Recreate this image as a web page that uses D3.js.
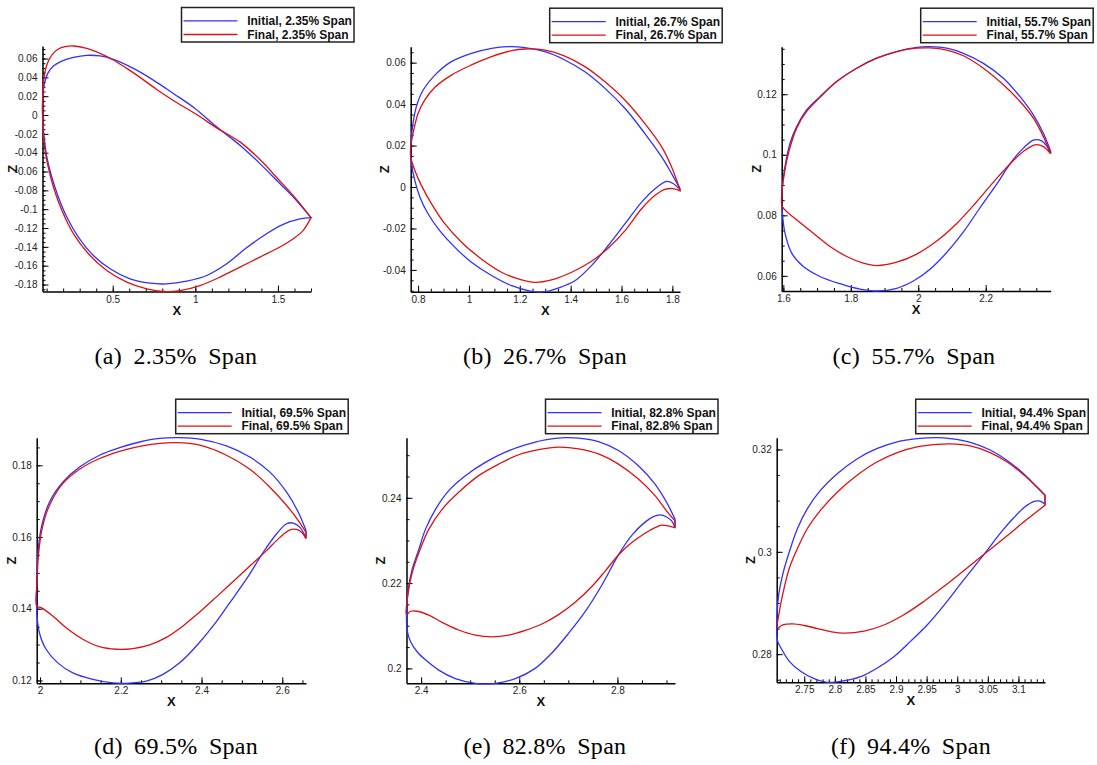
<!DOCTYPE html>
<meta charset="utf-8">
<style>

body {
  margin: 0;
  background: #fff;
}

svg {
  font-family: "Liberation Sans", Arial, sans-serif;
}

.axis path.domain {
  stroke: #000;
  stroke-width: 1.5;
}

.axis line {
  stroke: #000;
  stroke-width: 1;
}

.axis text {
  font-size: 10px;
  fill: #222;
}

.title {
  font-size: 13px;
  font-weight: bold;
  fill: #111;
}

.legend rect {
  fill: #fff;
  stroke: #222;
  stroke-width: 1.5;
}

.legend text {
  font-size: 12px;
  font-weight: bold;
  fill: #111;
}

.caption {
  font-family: "Liberation Serif", serif;
  font-size: 24px;
  letter-spacing: 0.3px;
  word-spacing: 5px;
  fill: #000;
}

.profile {
  fill: none;
  stroke-width: 1.3;
}

</style>
<body>
<script src="https://cdn.jsdelivr.net/npm/d3@7"></script>
<script>

// blade section profiles [x, z]: trailing edge -> upper side -> leading edge -> lower side
var spans = ["2.35", "26.7", "55.7", "69.5", "82.8", "94.4"];
var letters = ["a", "b", "c", "d", "e", "f"];

var initialA = [[1.700,-0.1090],[1.593,-0.0870],[1.502,-0.0711],[1.391,-0.0516],[1.270,-0.0321],[1.129,-0.0125],[0.998,0.0070],[0.867,0.0229],[0.746,0.0371],[0.625,0.0495],[0.504,0.0591],[0.423,0.0627],[0.343,0.0634],[0.262,0.0612],[0.192,0.0573],[0.141,0.0520],[0.107,0.0442],[0.087,0.0336],[0.077,0.0194],[0.075,0.0052],[0.079,-0.0125],[0.087,-0.0267],[0.101,-0.0445],[0.131,-0.0658],[0.171,-0.0870],[0.222,-0.1083],[0.292,-0.1296],[0.383,-0.1491],[0.484,-0.1633],[0.605,-0.1740],[0.726,-0.1786],[0.827,-0.1793],[0.948,-0.1764],[1.069,-0.1704],[1.190,-0.1580],[1.310,-0.1410],[1.431,-0.1260],[1.532,-0.1161],[1.633,-0.1104],[1.700,-0.1090]];
var finalA = [[1.700,-0.1090],[1.603,-0.0877],[1.502,-0.0682],[1.391,-0.0473],[1.270,-0.0285],[1.129,-0.0136],[1.008,0.0005],[0.867,0.0155],[0.766,0.0272],[0.665,0.0400],[0.585,0.0495],[0.504,0.0584],[0.423,0.0655],[0.343,0.0708],[0.262,0.0733],[0.212,0.0726],[0.171,0.0701],[0.131,0.0637],[0.101,0.0531],[0.085,0.0407],[0.077,0.0229],[0.075,0.0052],[0.077,-0.0125],[0.085,-0.0303],[0.105,-0.0516],[0.141,-0.0764],[0.192,-0.1012],[0.262,-0.1260],[0.353,-0.1473],[0.464,-0.1651],[0.585,-0.1775],[0.706,-0.1846],[0.806,-0.1874],[0.907,-0.1864],[1.028,-0.1811],[1.149,-0.1722],[1.270,-0.1615],[1.391,-0.1509],[1.512,-0.1402],[1.593,-0.1314],[1.653,-0.1225],[1.700,-0.1090]];

var initialB = [[1.830,-0.0008],[1.797,0.0065],[1.758,0.0145],[1.692,0.0258],[1.614,0.0379],[1.535,0.0476],[1.456,0.0556],[1.377,0.0613],[1.299,0.0653],[1.220,0.0673],[1.154,0.0677],[1.089,0.0669],[1.010,0.0645],[0.931,0.0605],[0.866,0.0540],[0.820,0.0468],[0.793,0.0387],[0.778,0.0290],[0.771,0.0194],[0.774,0.0113],[0.787,0.0032],[0.807,-0.0048],[0.839,-0.0129],[0.885,-0.0210],[0.944,-0.0290],[1.010,-0.0363],[1.089,-0.0427],[1.168,-0.0476],[1.246,-0.0503],[1.299,-0.0505],[1.351,-0.0487],[1.417,-0.0452],[1.482,-0.0379],[1.548,-0.0282],[1.614,-0.0177],[1.679,-0.0073],[1.732,-0.0008],[1.778,0.0027],[1.804,0.0016],[1.830,-0.0013]];
var finalB = [[1.830,-0.0013],[1.797,0.0097],[1.758,0.0194],[1.692,0.0306],[1.614,0.0419],[1.535,0.0508],[1.456,0.0581],[1.377,0.0632],[1.299,0.0661],[1.220,0.0666],[1.168,0.0658],[1.089,0.0629],[1.010,0.0589],[0.931,0.0540],[0.866,0.0481],[0.826,0.0419],[0.800,0.0355],[0.780,0.0258],[0.771,0.0194],[0.771,0.0145],[0.787,0.0081],[0.813,0.0008],[0.853,-0.0081],[0.905,-0.0177],[0.971,-0.0266],[1.049,-0.0347],[1.128,-0.0411],[1.207,-0.0448],[1.259,-0.0460],[1.325,-0.0448],[1.404,-0.0411],[1.482,-0.0358],[1.548,-0.0294],[1.614,-0.0210],[1.679,-0.0105],[1.732,-0.0040],[1.771,-0.0011],[1.804,-0.0008],[1.830,-0.0019]];

var initialC = [[2.3927,0.1011],[2.3710,0.1071],[2.3413,0.1132],[2.3018,0.1192],[2.2524,0.1253],[2.1931,0.1302],[2.1338,0.1335],[2.0843,0.1352],[2.0349,0.1357],[1.9954,0.1355],[1.9361,0.1341],[1.8768,0.1319],[1.8175,0.1286],[1.7581,0.1242],[1.7087,0.1192],[1.6692,0.1148],[1.6395,0.1093],[1.6198,0.1038],[1.6049,0.0961],[1.5970,0.0895],[1.5951,0.0851],[1.5980,0.0796],[1.6049,0.0741],[1.6247,0.0675],[1.6593,0.0631],[1.7087,0.0598],[1.7680,0.0574],[1.8273,0.0556],[1.8768,0.0550],[1.9361,0.0559],[1.9855,0.0583],[2.0349,0.0622],[2.0843,0.0677],[2.1338,0.0745],[2.1832,0.0825],[2.2326,0.0903],[2.2543,0.0940],[2.2820,0.0985],[2.3117,0.1022],[2.3433,0.1049],[2.3660,0.1046],[2.3809,0.1029],[2.3927,0.1003]];
var finalC = [[2.3927,0.1003],[2.3710,0.1060],[2.3413,0.1121],[2.3018,0.1176],[2.2524,0.1231],[2.1931,0.1286],[2.1338,0.1327],[2.0843,0.1346],[2.0349,0.1353],[1.9954,0.1352],[1.9361,0.1341],[1.8768,0.1319],[1.8175,0.1286],[1.7581,0.1242],[1.7087,0.1190],[1.6692,0.1143],[1.6395,0.1088],[1.6178,0.1016],[1.6030,0.0939],[1.5951,0.0862],[1.5970,0.0829],[1.6395,0.0785],[1.6890,0.0741],[1.7384,0.0697],[1.7878,0.0664],[1.8372,0.0642],[1.8768,0.0634],[1.9361,0.0645],[1.9954,0.0672],[2.0547,0.0715],[2.1140,0.0773],[2.1733,0.0845],[2.2326,0.0922],[2.2820,0.0981],[2.3117,0.1011],[2.3463,0.1033],[2.3710,0.1027],[2.3927,0.1003]];

var initialD = [[2.6588,0.1618],[2.6397,0.1669],[2.6108,0.1725],[2.5694,0.1781],[2.5197,0.1823],[2.4618,0.1854],[2.3956,0.1873],[2.3459,0.1877],[2.2963,0.1875],[2.2466,0.1865],[2.1970,0.1849],[2.1473,0.1828],[2.0977,0.1795],[2.0563,0.1753],[2.0232,0.1697],[2.0025,0.1623],[1.9942,0.1548],[1.9917,0.1473],[1.9917,0.1417],[1.9926,0.1380],[1.9983,0.1333],[2.0149,0.1287],[2.0439,0.1249],[2.0811,0.1221],[2.1308,0.1203],[2.1804,0.1193],[2.2135,0.1192],[2.2632,0.1198],[2.3046,0.1217],[2.3459,0.1249],[2.3873,0.1296],[2.4287,0.1352],[2.4701,0.1417],[2.5115,0.1483],[2.5528,0.1557],[2.5860,0.1609],[2.6108,0.1637],[2.6273,0.1639],[2.6439,0.1627],[2.6588,0.1597]];
var finalD = [[2.6588,0.1613],[2.6397,0.1646],[2.6108,0.1688],[2.5694,0.1739],[2.5197,0.1789],[2.4618,0.1828],[2.3956,0.1856],[2.3377,0.1863],[2.2963,0.1861],[2.2466,0.1853],[2.1970,0.1839],[2.1473,0.1819],[2.0977,0.1789],[2.0563,0.1749],[2.0232,0.1688],[2.0050,0.1623],[1.9959,0.1548],[1.9926,0.1473],[1.9917,0.1408],[2.0025,0.1403],[2.0314,0.1380],[2.0646,0.1347],[2.1059,0.1315],[2.1473,0.1294],[2.1887,0.1287],[2.2301,0.1289],[2.2715,0.1299],[2.3128,0.1320],[2.3542,0.1352],[2.3956,0.1391],[2.4370,0.1433],[2.4784,0.1476],[2.5197,0.1519],[2.5611,0.1562],[2.5942,0.1599],[2.6191,0.1620],[2.6356,0.1621],[2.6480,0.1613],[2.6588,0.1595]];

var initialE = [[2.9173,0.2350],[2.9003,0.2389],[2.8766,0.2432],[2.8427,0.2475],[2.8020,0.2511],[2.7614,0.2532],[2.7207,0.2540],[2.6936,0.2541],[2.6529,0.2536],[2.6122,0.2524],[2.5715,0.2507],[2.5308,0.2483],[2.4902,0.2452],[2.4563,0.2417],[2.4292,0.2373],[2.4088,0.2326],[2.3953,0.2279],[2.3817,0.2232],[2.3736,0.2185],[2.3702,0.2130],[2.3715,0.2090],[2.3783,0.2063],[2.3919,0.2039],[2.4088,0.2020],[2.4359,0.1996],[2.4698,0.1976],[2.5105,0.1965],[2.5512,0.1965],[2.5919,0.1976],[2.6325,0.2000],[2.6664,0.2036],[2.7003,0.2082],[2.7342,0.2133],[2.7681,0.2195],[2.8020,0.2266],[2.8292,0.2312],[2.8563,0.2343],[2.8732,0.2356],[2.8868,0.2360],[2.9003,0.2355],[2.9105,0.2346],[2.9173,0.2330]];
var finalE = [[2.9173,0.2346],[2.9003,0.2369],[2.8766,0.2405],[2.8427,0.2444],[2.8020,0.2479],[2.7614,0.2503],[2.7207,0.2515],[2.6800,0.2519],[2.6393,0.2513],[2.5986,0.2501],[2.5580,0.2479],[2.5173,0.2452],[2.4766,0.2413],[2.4427,0.2373],[2.4156,0.2326],[2.3953,0.2271],[2.3817,0.2224],[2.3736,0.2177],[2.3702,0.2126],[2.3783,0.2134],[2.3919,0.2134],[2.4156,0.2125],[2.4427,0.2108],[2.4766,0.2090],[2.5105,0.2078],[2.5444,0.2074],[2.5783,0.2078],[2.6122,0.2089],[2.6461,0.2104],[2.6800,0.2126],[2.7139,0.2155],[2.7478,0.2192],[2.7749,0.2228],[2.8020,0.2266],[2.8292,0.2295],[2.8563,0.2317],[2.8766,0.2330],[2.8902,0.2336],[2.9037,0.2334],[2.9173,0.2330]];

var initialF = [[3.1434,0.3111],[3.1298,0.3127],[3.1081,0.3153],[3.0810,0.3179],[3.0539,0.3199],[3.0213,0.3214],[2.9888,0.3221],[2.9671,0.3223],[2.9345,0.3221],[2.9019,0.3215],[2.8694,0.3202],[2.8368,0.3182],[2.8043,0.3153],[2.7771,0.3121],[2.7554,0.3085],[2.7391,0.3046],[2.7256,0.3000],[2.7147,0.2955],[2.7082,0.2916],[2.7055,0.2877],[2.7050,0.2851],[2.7066,0.2825],[2.7120,0.2812],[2.7256,0.2786],[2.7446,0.2766],[2.7663,0.2752],[2.7880,0.2745],[2.8151,0.2748],[2.8422,0.2756],[2.8694,0.2773],[2.8965,0.2795],[2.9236,0.2825],[2.9508,0.2857],[2.9779,0.2895],[3.0105,0.2945],[3.0457,0.2998],[3.0701,0.3036],[3.0919,0.3066],[3.1108,0.3088],[3.1271,0.3099],[3.1353,0.3099],[3.1434,0.3093]];
var finalF = [[3.1434,0.3110],[3.1298,0.3127],[3.1081,0.3151],[3.0810,0.3176],[3.0539,0.3194],[3.0213,0.3207],[2.9888,0.3211],[2.9671,0.3210],[2.9345,0.3205],[2.9019,0.3194],[2.8694,0.3176],[2.8368,0.3150],[2.8043,0.3117],[2.7771,0.3082],[2.7554,0.3046],[2.7391,0.3007],[2.7256,0.2968],[2.7158,0.2922],[2.7093,0.2883],[2.7066,0.2851],[2.7147,0.2857],[2.7310,0.2859],[2.7500,0.2856],[2.7717,0.2850],[2.7934,0.2844],[2.8151,0.2841],[2.8477,0.2845],[2.8802,0.2857],[2.9128,0.2877],[2.9453,0.2903],[2.9779,0.2932],[3.0105,0.2963],[3.0457,0.2997],[3.0810,0.3031],[3.1136,0.3063],[3.1434,0.3091]];

// labelled ticks and minor tick steps
var xTicks = [[0.5, 1, 1.5], [0.8, 1, 1.2, 1.4, 1.6, 1.8], [1.6, 1.8, 2, 2.2], [2, 2.2, 2.4, 2.6], [2.4, 2.6, 2.8], [2.75, 2.8, 2.85, 2.9, 2.95, 3, 3.05, 3.1]];
var yTicks = [[-0.18, -0.16, -0.14, -0.12, -0.1, -0.08, -0.06, -0.04, -0.02, 0, 0.02, 0.04, 0.06], [-0.04, -0.02, 0, 0.02, 0.04, 0.06], [0.06, 0.08, 0.1, 0.12], [0.12, 0.14, 0.16, 0.18], [0.2, 0.22, 0.24], [0.28, 0.3, 0.32]];
var xMinorStep = [0.1, 0.05, 0.05, 0.05, 0.05, 0.01];
var yMinorStep = [0.005, 0.005, 0.005, 0.005, 0.005, 0.005];

var initials = [initialA, initialB, initialC, initialD, initialE, initialF];
var finals = [finalA, finalB, finalC, finalD, finalE, finalF];

// plot frames on the page
var frames = [
  {left: 42.5, top: 46, w: 268.5, h: 245.5, zOff: 30},
  {left: 410.7, top: 46.7, w: 269.3, h: 245, zOff: 26},
  {left: 781.7, top: 46.7, w: 269, h: 244.3, zOff: 25},
  {left: 36.7, top: 437.7, w: 269.3, h: 245.6, zOff: 25},
  {left: 406.5, top: 437.7, w: 268.5, h: 245.6, zOff: 26},
  {left: 776.7, top: 437.7, w: 268.3, h: 244.6, zOff: 26}
];
var captionPos = [[176, 364], [545, 364], [914, 364], [176, 754], [545, 754], [911, 754]];

var blue = "#3030ff", red = "#dd1111";

var fmt = function(d) { return String(+d.toFixed(4)); };

function stepTicks(domain, step) {
  var lo = Math.ceil(domain[0] / step - 1e-6), hi = Math.floor(domain[1] / step + 1e-6);
  return d3.range(lo, hi + 1).map(function(k) { return +(k * step).toFixed(6); });
}

var svg = d3.select("body").append("svg")
    .attr("width", 1097)
    .attr("height", 765);

frames.forEach(function(f, i) {
  var both = initials[i].concat(finals[i]);
  var x = d3.scaleLinear().domain(d3.extent(both, function(d) { return d[0]; })).range([0, f.w]);
  var y = d3.scaleLinear().domain(d3.extent(both, function(d) { return d[1]; })).range([f.h, 0]);

  var g = svg.append("g").attr("transform", "translate(" + f.left + "," + f.top + ")");

  var line = d3.line()
      .x(function(d) { return x(d[0]); })
      .y(function(d) { return y(d[1]); })
      .curve(d3.curveCatmullRom.alpha(0.5));

  // minor ticks
  g.append("g").attr("class", "axis")
      .attr("transform", "translate(0," + f.h + ")")
      .call(d3.axisBottom(x).tickValues(stepTicks(x.domain(), xMinorStep[i])).tickSize(-3).tickFormat(""))
      .select(".domain").remove();
  g.append("g").attr("class", "axis")
      .call(d3.axisLeft(y).tickValues(stepTicks(y.domain(), yMinorStep[i])).tickSize(-3).tickFormat(""))
      .select(".domain").remove();

  // major ticks with labels
  g.append("g").attr("class", "axis")
      .attr("transform", "translate(0," + f.h + ")")
      .call(d3.axisBottom(x).tickValues(xTicks[i]).tickSizeInner(-6).tickSizeOuter(0).tickPadding(4).tickFormat(fmt));
  g.append("g").attr("class", "axis")
      .call(d3.axisLeft(y).tickValues(yTicks[i]).tickSizeInner(-6).tickSizeOuter(0).tickPadding(5).tickFormat(fmt));

  g.append("path").attr("class", "profile").attr("stroke", blue).attr("d", line(initials[i]) + "Z");
  g.append("path").attr("class", "profile").attr("stroke", red).attr("d", line(finals[i]) + "Z");

  g.append("text").attr("class", "title")
      .attr("x", f.w / 2).attr("y", f.h + 23)
      .attr("text-anchor", "middle")
      .text("X");
  g.append("text").attr("class", "title")
      .attr("transform", "translate(" + (-f.zOff) + "," + (f.h / 2) + ") rotate(-90)")
      .attr("text-anchor", "middle")
      .attr("dy", "0.36em")
      .text("Z");

  // legend
  var lg = g.append("g").attr("class", "legend")
      .attr("transform", "translate(139," + (-38.5) + ")");
  lg.append("rect").attr("width", 172.5).attr("height", 34.5);
  [["Initial", blue, 13.4], ["Final", red, 27]].forEach(function(e) {
    lg.append("line").attr("x1", 2).attr("x2", 56).attr("y1", e[2]).attr("y2", e[2])
        .attr("stroke", e[1]).attr("stroke-width", 1.3);
    lg.append("text").attr("x", 65.7).attr("y", e[2] + 4.3)
        .text(e[0] + ", " + spans[i] + "% Span");
  });

  svg.append("text").attr("class", "caption")
      .attr("x", captionPos[i][0]).attr("y", captionPos[i][1])
      .attr("text-anchor", "middle")
      .text("(" + letters[i] + ") " + spans[i] + "% Span");
});

</script>
